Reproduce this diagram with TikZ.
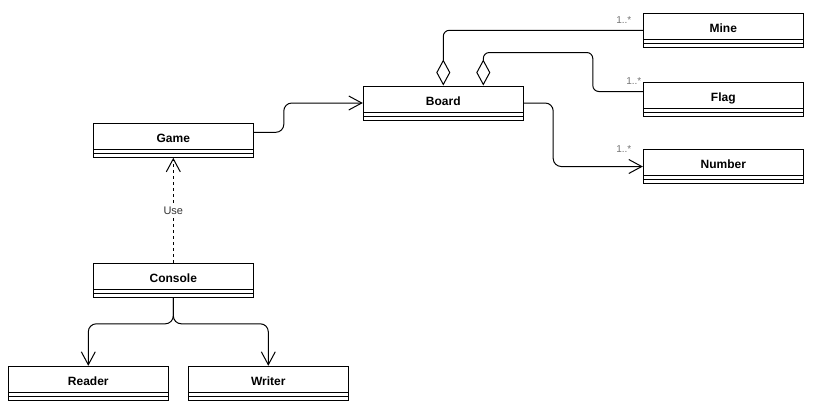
\documentclass[tikz,border=0pt]{standalone}
\usepackage{fontspec}
\setmainfont{Liberation Sans}
\usetikzlibrary{arrows.meta,calc}
\tikzset{
  cls/.style={draw, fill=white, minimum width=160pt, minimum height=34pt, inner sep=0pt,
    font=\bfseries\fontsize{12}{14}\selectfont, text height=9pt, text depth=5pt,
    path picture={
      \draw ([yshift=-26pt]path picture bounding box.north west) -- ([yshift=-26pt]path picture bounding box.north east);
      \draw ([yshift=-30pt]path picture bounding box.north west) -- ([yshift=-30pt]path picture bounding box.north east);
    }},
  assoc/.style={-{Straight Barb[length=13pt,width=14pt]}, rounded corners=8pt},
  aggr/.style={-{Diamond[open,length=26pt,width=14pt]}, rounded corners=6pt},
  dep/.style={-{Straight Barb[length=13pt,width=14pt]}, dash pattern=on 3pt off 3pt},
  mult/.style={font=\fontsize{10}{12}\selectfont, text=black!55, inner sep=0pt},
  uselbl/.style={font=\fontsize{11}{13}\selectfont, text=black!80, fill=white, inner sep=1.5pt},
}
\begin{document}
\begin{tikzpicture}[x=1pt,y=-1pt,line width=1pt]
\useasboundingbox (0,0) rectangle (813,408);
\node[cls] (mine) at (723.3,30.3) {Mine};
\node[cls] (flag) at (723.3,99.5) {Flag};
\node[cls] (number) at (723.3,166.5) {Number};
\node[cls] (board) at (443.3,103) {Board};
\node[cls] (game) at (173.3,140.3) {Game};
\node[cls] (console) at (173.3,280.3) {Console};
\node[cls] (reader) at (88.3,383.3) {Reader};
\node[cls] (writer) at (268.3,383.3) {Writer};

\draw[assoc] ([yshift=8pt]game.east) -- ++(30,0) |- (board.west);
\draw[assoc] (board.east) -- ++(29.4,0) |- (number.west);
\draw[aggr] (mine.west) -| (board.north);
\draw[aggr] ([yshift=8pt]flag.west) -- ++(-50,0) |- ([xshift=40pt,yshift=33pt]board.north) -- ([xshift=40pt]board.north);
\draw[dep] (console.north) -- node[uselbl]{Use} (game.south);
\draw[assoc] (console.south) -- ++(0,26) -| (reader.north);
\draw[assoc] (console.south) -- ++(0,26) -| (writer.north);

\node[mult] (m1) at ([xshift=-19pt,yshift=10pt]mine.west) {1..*};
\node[mult] (m2) at ([xshift=-9pt,yshift=18.5pt]flag.west) {1..*};
\node[mult] (m3) at ([xshift=-19pt,yshift=17.5pt]number.west) {1..*};
\end{tikzpicture}
\end{document}
